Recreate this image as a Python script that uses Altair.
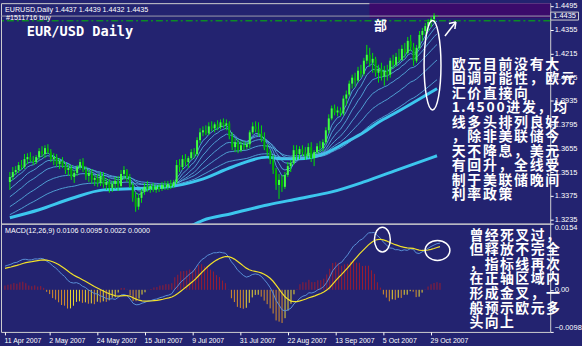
import json
import altair as alt
import pandas as pd

# ---------------- data ----------------
CLOSE = [1.3487, 1.3516, 1.3528, 1.3557, 1.3546, 1.3592, 1.3604, 1.3587, 1.3575, 1.3604,
         1.3639, 1.3622, 1.3657, 1.3633, 1.3592, 1.3604, 1.3563, 1.3581, 1.3551, 1.3528,
         1.3540, 1.3487, 1.3511, 1.3546, 1.3575, 1.3534, 1.3493, 1.3511, 1.3470, 1.3481,
         1.3452, 1.3493, 1.3440, 1.3458, 1.3423, 1.3446, 1.3464, 1.3434, 1.3505, 1.3528,
         1.3481, 1.3440, 1.3364, 1.3312, 1.3364, 1.3399, 1.3429, 1.3417, 1.3434, 1.3411,
         1.3429, 1.3417, 1.3440, 1.3429, 1.3446, 1.3434, 1.3458, 1.3557, 1.3546, 1.3592,
         1.3575, 1.3598, 1.3633, 1.3622, 1.3704, 1.3750, 1.3762, 1.3744, 1.3785, 1.3774,
         1.3797, 1.3780, 1.3809, 1.3791, 1.3803, 1.3727, 1.3663, 1.3692, 1.3645, 1.3674,
         1.3663, 1.3680, 1.3750, 1.3785, 1.3768, 1.3744, 1.3709, 1.3657, 1.3633, 1.3587,
         1.3528, 1.3440, 1.3470, 1.3429, 1.3499, 1.3551, 1.3569, 1.3645, 1.3622, 1.3651,
         1.3633, 1.3610, 1.3663, 1.3598, 1.3633, 1.3668, 1.3657, 1.3692, 1.3762, 1.3832,
         1.3891, 1.3867, 1.3879, 1.3861, 1.3949, 1.3973, 1.4037, 1.4072, 1.4055, 1.4113,
         1.4095, 1.4172, 1.4207, 1.4160, 1.4183, 1.4101, 1.4125, 1.4078, 1.4113, 1.4090,
         1.4172, 1.4148, 1.4195, 1.4177, 1.4242, 1.4218, 1.4289, 1.4253, 1.4172, 1.4248,
         1.4324, 1.4347, 1.4376, 1.4400, 1.4417, 1.4437, 1.4435]

HIGH = [1.3516, 1.3546, 1.3551, 1.3575, 1.3587, 1.3622, 1.3627, 1.3633, 1.3610, 1.3616,
        1.3657, 1.3668, 1.3674, 1.3680, 1.3651, 1.3627, 1.3622, 1.3598, 1.3604, 1.3575,
        1.3563, 1.3557, 1.3528, 1.3557, 1.3592, 1.3598, 1.3551, 1.3528, 1.3534, 1.3499,
        1.3505, 1.3516, 1.3516, 1.3481, 1.3475, 1.3464, 1.3487, 1.3493, 1.3528, 1.3551,
        1.3534, 1.3505, 1.3452, 1.3399, 1.3388, 1.3417, 1.3452, 1.3464, 1.3446, 1.3452,
        1.3440, 1.3446, 1.3458, 1.3464, 1.3464, 1.3470, 1.3470, 1.3587, 1.3592, 1.3616,
        1.3622, 1.3610, 1.3651, 1.3657, 1.3721, 1.3774, 1.3785, 1.3791, 1.3809, 1.3815,
        1.3809, 1.3821, 1.3826, 1.3832, 1.3826, 1.3815, 1.3750, 1.3715, 1.3709, 1.3698,
        1.3698, 1.3692, 1.3762, 1.3809, 1.3815, 1.3809, 1.3791, 1.3750, 1.3680, 1.3645,
        1.3616, 1.3540, 1.3505, 1.3499, 1.3516, 1.3575, 1.3587, 1.3674, 1.3674, 1.3668,
        1.3674, 1.3663, 1.3686, 1.3692, 1.3645, 1.3686, 1.3698, 1.3709, 1.3780, 1.3856,
        1.3908, 1.3914, 1.3902, 1.3897, 1.3967, 1.3996, 1.4055, 1.4090, 1.4101, 1.4136,
        1.4148, 1.4189, 1.4265, 1.4248, 1.4218, 1.4195, 1.4148, 1.4160, 1.4142, 1.4148,
        1.4189, 1.4207, 1.4218, 1.4242, 1.4265, 1.4277, 1.4312, 1.4324, 1.4277, 1.4265,
        1.4347, 1.4365, 1.4394, 1.4417, 1.4429, 1.4452, 1.4439]

LOW = [1.3411, 1.3470, 1.3499, 1.3511, 1.3528, 1.3534, 1.3563, 1.3575, 1.3557, 1.3563,
       1.3587, 1.3604, 1.3598, 1.3622, 1.3575, 1.3557, 1.3546, 1.3534, 1.3540, 1.3505,
       1.3493, 1.3470, 1.3452, 1.3493, 1.3528, 1.3516, 1.3470, 1.3458, 1.3446, 1.3434,
       1.3429, 1.3434, 1.3423, 1.3411, 1.3394, 1.3399, 1.3417, 1.3405, 1.3423, 1.3470,
       1.3458, 1.3423, 1.3341, 1.3282, 1.3294, 1.3335, 1.3382, 1.3399, 1.3394, 1.3399,
       1.3394, 1.3399, 1.3405, 1.3411, 1.3411, 1.3417, 1.3423, 1.3446, 1.3516, 1.3528,
       1.3551, 1.3540, 1.3587, 1.3598, 1.3610, 1.3686, 1.3727, 1.3733, 1.3733, 1.3756,
       1.3750, 1.3762, 1.3768, 1.3774, 1.3762, 1.3709, 1.3645, 1.3633, 1.3627, 1.3633,
       1.3645, 1.3651, 1.3657, 1.3739, 1.3750, 1.3727, 1.3692, 1.3645, 1.3610, 1.3563,
       1.3505, 1.3411, 1.3358, 1.3399, 1.3417, 1.3487, 1.3516, 1.3557, 1.3587, 1.3592,
       1.3610, 1.3587, 1.3598, 1.3575, 1.3551, 1.3622, 1.3633, 1.3639, 1.3680, 1.3744,
       1.3821, 1.3850, 1.3844, 1.3844, 1.3850, 1.3908, 1.3961, 1.4008, 1.4019, 1.4043,
       1.4072, 1.4084, 1.4154, 1.4136, 1.4101, 1.4078, 1.4043, 1.4055, 1.4025, 1.4055,
       1.4072, 1.4125, 1.4136, 1.4160, 1.4172, 1.4189, 1.4207, 1.4230, 1.4142, 1.4160,
       1.4236, 1.4289, 1.4324, 1.4347, 1.4370, 1.4394, 1.4432]

FIRST_OPEN = 1.3458
OPEN = [FIRST_OPEN] + CLOSE[:-1]          # each daily bar opens at the previous close

DATE_TICK_INDEX = [0, 15, 31, 47, 63, 79, 95, 111, 127, 143]
DATE_TICK_LABELS = ["11 Apr 2007", "2 May 2007", "24 May 2007", "15 Jun 2007", "9 Jul 2007",
                    "31 Jul 2007", "22 Aug 2007", "13 Sep 2007", "5 Oct 2007", "29 Oct 2007"]
PRICE_TICKS = [1.3235, 1.3375, 1.3515, 1.3655, 1.3795, 1.3935, 1.4075, 1.4215, 1.4355, 1.4495]
MACD_TICKS = [-0.0098, 0.0, 0.0154]

EMA_SPANS = [5, 8, 13, 21, 34, 55]
EMA_START = [1.3481, 1.3458, 1.3417, 1.3370, 1.3312, 1.3265]

SLOW_MA_INDEX = [0, 10, 21, 32, 43, 54, 65, 76, 88, 93, 99, 106, 115, 121, 126, 132, 146]
SLOW_MA_VALUE = [1.3247, 1.3294, 1.3360, 1.3411, 1.3419, 1.3429, 1.3470, 1.3546, 1.3604,
                 1.3594, 1.3594, 1.3614, 1.3692, 1.3750, 1.3809, 1.3867, 1.4008]
LONG_MA_INDEX = [62, 66, 76, 88, 99, 110, 121, 132, 146]
LONG_MA_VALUE = [1.3200, 1.3232, 1.3272, 1.3322, 1.3360, 1.3399, 1.3458, 1.3526, 1.3612]

MACD_FAST_START = 1.3435
MACD_SLOW_START = 1.3380
MACD_SIGNAL_START = 0.0050

BID_PRICE = 1.4435
ORDER_PRICE = 1.4407

HEADER_TEXT = "EURUSD,Daily 1.4437 1.4439 1.4432 1.4435"
ORDER_TEXT = "#1511716 buy"
TITLE_TEXT = "EUR/USD Daily"
MACD_HEADER_TEXT = "MACD(12,26,9) 0.0106 0.0095 0.0022 0.0000"

PRICE_NOTE = ["欧元目前没有大", "回调可能性，欧元", "汇价直接向", "1.4500进发，均",
              "线多头排列良好", "，除非美联储今", "天不降息，美元", "有回升，全线受",
              "制于美联储晚间", "利率政策"]
MACD_NOTE = ["曾经死叉过，", "但释放不完全", "，指标线再次", "在正轴区域内",
             "形成金叉，一", "般预示欧元多", "头向上"]

PRICE_DOMAIN = [1.3212, 1.4511]
MACD_DOMAIN = [-0.0098, 0.0154]
X_DOMAIN = [-1.3333, 183.0]

BG = "#232370"
WHITE = "#ffffff"
CJK = "Noto Sans CJK SC"

# ---------------- derived series ----------------
n = len(CLOSE)
bars = pd.DataFrame({"i": list(range(n)), "open": OPEN, "high": HIGH, "low": LOW, "close": CLOSE})
bars["dir"] = ["up" if c >= o else "down" for o, c in zip(OPEN, CLOSE)]


def ema_from(start, values, span):
    s = pd.Series([start] + list(values[1:]), dtype=float)
    return s.ewm(span=span, adjust=False).mean()


rows = []
for span, start in zip(EMA_SPANS, EMA_START):
    for i, v in enumerate(ema_from(start, CLOSE, span)):
        rows.append({"i": i, "span": span, "v": float(v)})
ema_df = pd.DataFrame(rows)

fast = ema_from(MACD_FAST_START, CLOSE, 12)
slow = ema_from(MACD_SLOW_START, CLOSE, 26)
macd = fast - slow
signal = ema_from(MACD_SIGNAL_START, list(macd), 9)
hist = 2 * (macd - signal)
prev = hist.shift(1).fillna(0)
kind = []
for h, p in zip(hist, prev):
    if h >= 0:
        kind.append("pos")
    elif h < p:
        kind.append("negdown")
    else:
        kind.append("negup")
macd_df = pd.DataFrame({"i": list(range(n)), "macd": macd, "signal": signal,
                        "hist": hist, "kind": kind})

# ---------------- scales / axes ----------------
xs = alt.Scale(domain=X_DOMAIN, nice=False, zero=False)
ps = alt.Scale(domain=PRICE_DOMAIN, nice=False, zero=False)
ms = alt.Scale(domain=MACD_DOMAIN, nice=False, zero=False)

price_axis = alt.Axis(orient="right", values=PRICE_TICKS, format=".4f", title=None, grid=False,
                      domain=False, tickSize=3, tickColor=WHITE, labelColor=WHITE,
                      labelFont="Liberation Sans", labelFontSize=7.5, labelPadding=1)
macd_axis = alt.Axis(orient="right", values=MACD_TICKS, title=None, grid=False, domain=False,
                     labelExpr="datum.value == 0 ? '0.00' : format(datum.value, '.4f')",
                     labelFlush=True, tickSize=3, tickColor=WHITE, labelColor=WHITE,
                     labelFont="Liberation Sans", labelFontSize=7.5, labelPadding=1)
date_axis = alt.Axis(orient="bottom", values=DATE_TICK_INDEX, title=None, grid=False, domain=False,
                     labelExpr=json.dumps(DATE_TICK_LABELS) + "[indexof(" + json.dumps(DATE_TICK_INDEX) + ", datum.value)]",
                     labelAlign="left", labelOffset=-1, labelOverlap=False, labelBound=False,
                     tickSize=3, tickColor=WHITE, labelColor=WHITE, labelFont="Liberation Sans",
                     labelFontSize=7, labelPadding=2)


def PX():
    return alt.X("i:Q", scale=xs, axis=None)


def PY(field):
    return alt.Y(field, type="quantitative", scale=ps, axis=price_axis)


def MX():
    return alt.X("i:Q", scale=xs, axis=date_axis)


def MY(field):
    return alt.Y(field, type="quantitative", scale=ms, axis=macd_axis)


one = pd.DataFrame({"k": [0]})


def label(text, x, y, size, font="Liberation Sans", weight="normal", align="left",
          baseline="middle", color=WHITE):
    return alt.Chart(one).mark_text(align=align, baseline=baseline, font=font, fontSize=size,
                                    fontWeight=weight, color=color).encode(
        x=alt.value(x), y=alt.value(y), text=alt.value(text))


def text_block(lines, x0, c0, line_h, size, full_adv):
    """Lay the note out glyph by glyph, with the wide spacing of the reference's bitmap font."""
    out = []
    for r, line in enumerate(lines):
        x = x0
        for ch in line:
            if ord(ch) < 128:
                adv = 5.0 if ch == "." else 10.0
            else:
                adv = full_adv
            if ch != " ":
                out.append(label(ch, x + adv / 2, c0 + r * line_h + 1.1, size, font=CJK,
                                 weight="bold", align="center"))
            x += adv
    return out


def seg(x1, y1, x2, y2, color=WHITE, width=1.5):
    return alt.Chart(one).mark_rule(color=color, strokeWidth=width).encode(
        x=alt.value(x1), y=alt.value(y1), x2=alt.value(x2), y2=alt.value(y2))


def ellipse(cx, cy, rx, ry):
    r = max(rx, ry)
    ax, ay = rx / r, ry / r
    path = f"M {-ax},0 A {ax},{ay} 0 1,1 {ax},0 A {ax},{ay} 0 1,1 {-ax},0 Z"
    return alt.Chart(one).mark_point(shape=path, size=(2 * r) ** 2, filled=False, color=WHITE,
                                     strokeWidth=1.5, opacity=1).encode(x=alt.value(cx), y=alt.value(cy))


# ---------------- price panel ----------------
purple = alt.Chart(one).mark_rect(color="#3b0b6b").encode(
    x=alt.value(371), x2=alt.value(553), y=alt.value(0), y2=alt.value(15))
bid = alt.Chart(pd.DataFrame({"p": [BID_PRICE]})).mark_rule(color="#9c9cae", strokeWidth=1).encode(y=PY("p"))
order = alt.Chart(pd.DataFrame({"p": [ORDER_PRICE]})).mark_rule(
    color="#00c000", strokeWidth=1, strokeDash=[7, 3, 2, 3]).encode(y=PY("p"))

long_ma = alt.Chart(pd.DataFrame({"i": LONG_MA_INDEX, "v": LONG_MA_VALUE})).mark_line(
    color="#3cc6ee", strokeWidth=3, interpolate="monotone", clip=True).encode(x=PX(), y=PY("v"))
slow_ma = alt.Chart(pd.DataFrame({"i": SLOW_MA_INDEX, "v": SLOW_MA_VALUE})).mark_line(
    color="#3cc6ee", strokeWidth=3, interpolate="monotone", clip=True).encode(x=PX(), y=PY("v"))
emas = alt.Chart(ema_df).mark_line(color="#58b4e4", strokeWidth=1, opacity=0.85, clip=True).encode(
    x=PX(), y=PY("v"), detail="span:N")

wick = alt.Chart(bars).mark_rule(color="#00e400", strokeWidth=1).encode(x=PX(), y=PY("low"), y2="high")
body = alt.Chart(bars).mark_bar(size=2).encode(
    x=PX(), y=PY("open"), y2="close",
    color=alt.Color("dir:N", scale=alt.Scale(domain=["up", "down"], range=["#40ff40", "#00b000"]), legend=None))

price_box = alt.Chart(one).mark_rect(fill=BG, stroke="#d0d0d0", strokeWidth=1).encode(
    x=alt.value(553.5), x2=alt.value(581.5), y=alt.value(9), y2=alt.value(17))

top_layers = [
    purple, bid, order, long_ma, slow_ma, emas, wick, body,
    ellipse(434.5, 62.5, 8.5, 45),
    seg(447, 33, 458, 19), seg(458, 19, 451, 20.5), seg(458, 19, 457, 26),
    label("部", 382, 23, 13, font=CJK, weight="bold", align="center"),
    label(HEADER_TEXT, 4, 6.5, 7.2),
    label(ORDER_TEXT, 5, 14.5, 7.2),
    label(TITLE_TEXT, 26, 29, 13.7, font="DejaVu Sans Mono", weight="bold"),
    price_box,
    label(f"{BID_PRICE:.4f}", 556, 13, 7.5),
] + text_block(PRICE_NOTE, 453, 61, 14.6, 14, 15.7)

top = alt.layer(*top_layers).properties(width=553, height=222)

# ---------------- MACD panel ----------------
def hist_part(k, color):
    return alt.Chart(macd_df).transform_filter(alt.datum.kind == k).mark_rule(
        color=color, strokeWidth=1).encode(x=MX(), y=MY("hist"), y2=alt.datum(0))


macd_line = alt.Chart(macd_df).mark_line(color="#5a8fd6", strokeWidth=1, clip=True).encode(x=MX(), y=MY("macd"))
sig_line = alt.Chart(macd_df).mark_line(color="#f2e12a", strokeWidth=1.2, clip=True).encode(x=MX(), y=MY("signal"))

bottom_layers = [
    hist_part("pos", "#9a1c30"), hist_part("negdown", "#d9902a"), hist_part("negup", "#ecd830"),
    macd_line, sig_line,
    ellipse(384, 16, 8, 12.5),
    ellipse(439.5, 27, 12.5, 10),
    label(MACD_HEADER_TEXT, 4, 7.5, 7.2),
] + text_block(MACD_NOTE, 471, 11, 14.7, 14, 15.4)

bottom = alt.layer(*bottom_layers).properties(width=553, height=109)

chart = alt.vconcat(top, bottom, spacing=0, bounds="flush").properties(
    padding={"left": 0, "top": 0, "right": 0, "bottom": 2},
    background=BG,
).configure_view(stroke="#d0d0d0", strokeWidth=1).configure_concat(spacing=0)

chart.save("out.html", embed_options={"renderer": "svg", "actions": False})
